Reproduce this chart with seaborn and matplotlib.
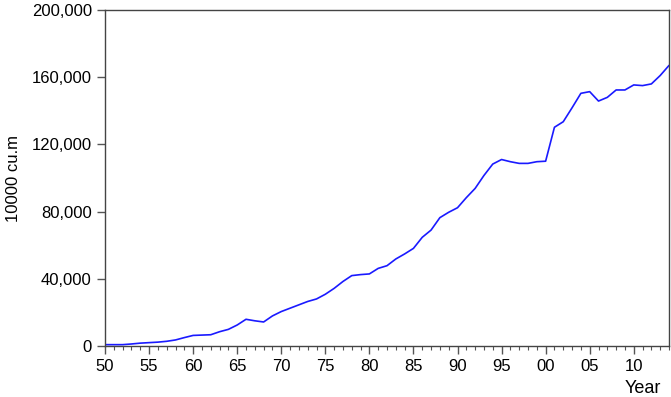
import seaborn as sns
import matplotlib.pyplot as plt
import matplotlib.ticker as mticker
import pandas as pd

# values (10000 cu.m)
years = list(range(1950, 2015))
volume = [
    800, 800, 800, 1200, 1700, 2000, 2300, 2800, 3600, 5000,      # 1950-59
    6300, 6500, 6700, 8500, 9900, 12500, 15900, 15000, 14300, 17900,  # 1960-69
    20500, 22500, 24500, 26500, 28000, 30800, 34300, 38400, 41900, 42500,  # 1970-79
    42900, 46200, 47800, 51800, 54800, 58100, 64700, 69000, 76400, 79600,  # 1980-89
    82300, 88300, 93800, 101500, 108300, 111000, 109700, 108700, 108700, 109700,  # 1990-99
    110000, 130200, 133500, 141800, 150400, 151400, 145800, 148000, 152400, 152400,  # 2000-09
    155400, 155000, 156000, 161000, 167000,  # 2010-14
]
x_ticks = list(range(1950, 2015, 5))
x_labels = ['%02d' % (y % 100) for y in x_ticks]

df = pd.DataFrame({'Year': years, 'Volume': volume})

sns.set_style('ticks')
plt.rcParams['font.family'] = ['Liberation Sans', 'DejaVu Sans']
plt.rcParams['text.color'] = 'black'
plt.rcParams['xtick.labelcolor'] = 'black'
plt.rcParams['ytick.labelcolor'] = 'black'
plt.rcParams['axes.labelcolor'] = 'black'

fig = plt.figure(figsize=(6.71, 3.97), dpi=100)
ax = fig.add_axes([105 / 671, 51 / 397, 564 / 671, 336 / 397])

sns.lineplot(x='Year', y='Volume', data=df, ax=ax, color='#1a1aff', linewidth=1.2)

ax.set_xlim(1950, 2014)
ax.set_ylim(0, 200000)
ax.set_xticks(x_ticks)
ax.set_xticklabels(x_labels)
ax.xaxis.set_minor_locator(mticker.MultipleLocator(1))
ax.set_yticks(range(0, 200001, 40000))
ax.yaxis.set_major_formatter(mticker.FuncFormatter(lambda v, p: f'{int(v):,}'))

ax.tick_params(axis='both', which='major', labelsize=12, length=6, width=1, color='#555555',
               direction='out', labelcolor='black')
ax.tick_params(axis='x', which='minor', length=3, width=0.8, color='#555555', direction='out')
for s in ax.spines.values():
    s.set_color('#444444')
    s.set_linewidth(1.0)

ax.set_ylabel('10000 cu.m', fontsize=12, labelpad=8)
ax.set_xlabel('Year', fontsize=13)
ax.xaxis.set_label_coords(0.985, -0.1)
ax.xaxis.label.set_horizontalalignment('right')
ax.xaxis.label.set_verticalalignment('top')

fig.savefig('out.png', dpi=100)
